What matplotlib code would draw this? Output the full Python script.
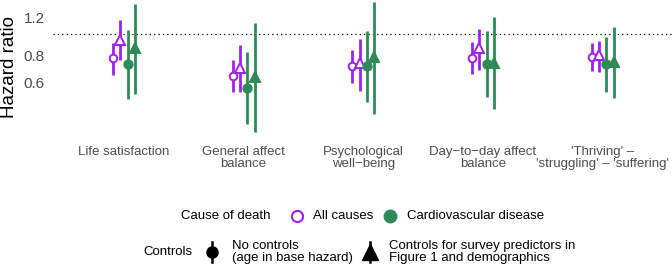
import matplotlib
matplotlib.use("Agg")
import matplotlib.pyplot as plt
from matplotlib.lines import Line2D
import numpy as np

plt.rcParams['font.family'] = ['Liberation Sans', 'DejaVu Sans']

categories = ["Life satisfaction", "General affect\nbalance", "Psychological\nwell\u2212being",
              "Day\u2212to\u2212day affect\nbalance", "'Thriving' \u2013\n'struggling' \u2013 'suffering'"]

# All causes, no controls
all_nc_hr = [0.773, 0.640, 0.712, 0.773, 0.787]
all_nc_lo = [0.647, 0.537, 0.596, 0.654, 0.675]
all_nc_hi = [0.914, 0.759, 0.845, 0.918, 0.908]
# All causes, with controls
all_c_hr = [0.945, 0.695, 0.733, 0.861, 0.801]
all_c_lo = [0.759, 0.537, 0.547, 0.682, 0.666]
all_c_hi = [1.166, 0.892, 0.948, 1.055, 0.931]
# Cardiovascular, no controls
cvd_nc_hr = [0.727, 0.561, 0.712, 0.725, 0.725]
cvd_nc_lo = [0.500, 0.383, 0.486, 0.509, 0.537]
cvd_nc_hi = [1.047, 0.825, 1.040, 1.036, 0.975]
# Cardiovascular, with controls
cvd_c_hr = [0.861, 0.631, 0.782, 0.733, 0.746]
cvd_c_lo = [0.526, 0.352, 0.425, 0.448, 0.504]
cvd_c_hi = [1.390, 1.132, 1.418, 1.200, 1.078]

yticks = [0.6, 0.8, 1.2]
ytick_labels = ["0.6", "0.8", "1.2"]

PURPLE = "#A020F0"
GREEN = "#2E8B57"
W, H = 672, 267

fig = plt.figure(figsize=(W / 100, H / 100), dpi=100)
left, top, bottom = 53, 0, 135
ax = fig.add_axes([left / W, 1 - bottom / H, (W - left) / W, (bottom - top) / H])
ax.set_yscale('log')
ax.set_ylim(0.34, 1.445)
ax.set_xlim(-0.594, 4.58)

x = np.arange(len(categories))
series = [
    (all_nc_hr, all_nc_lo, all_nc_hi, -0.092, PURPLE, 'o', 'white', 5.5),
    (all_c_hr, all_c_lo, all_c_hi, -0.031, PURPLE, '^', 'white', 7),
    (cvd_nc_hr, cvd_nc_lo, cvd_nc_hi, 0.031, GREEN, 'o', GREEN, 6),
    (cvd_c_hr, cvd_c_lo, cvd_c_hi, 0.092, GREEN, '^', GREEN, 7.5),
]
ax.axhline(1.0, color='black', lw=0.9, ls=(0, (1, 2.5)), zorder=1)
for hr, lo, hi, off, col, mk, fc, ms in series:
    xs = x + off
    ax.vlines(xs, lo, hi, color=col, lw=2.0, zorder=2)
    ax.plot(xs, hr, ls='none', marker=mk, ms=ms, mfc=fc, mec=col, mew=1.4, zorder=3)

ax.set_yticks(yticks)
ax.set_yticklabels(ytick_labels)
ax.yaxis.set_minor_locator(matplotlib.ticker.NullLocator())
ax.tick_params(axis='y', length=0, labelsize=11, labelcolor='#4D4D4D', pad=6)
ax.set_xticks(x)
ax.set_xticklabels(categories)
ax.tick_params(axis='x', length=0, labelsize=9.5, labelcolor='#4D4D4D', pad=8)
for t in ax.get_xticklabels():
    t.set_linespacing(1.0)
ax.set_ylabel("Hazard ratio", fontsize=13.5, labelpad=4)
for s in ax.spines.values():
    s.set_visible(False)

# Legends in pixel-space overlay
ov = fig.add_axes([0, 0, 1, 1], zorder=-1)
ov.set_xlim(0, W)
ov.set_ylim(H, 0)
ov.axis('off')

fs = 9.5
ly1 = 216
ov.text(181, ly1, "Cause of death", fontsize=fs, va='center', ha='left')
ov.add_line(Line2D([297], [ly1], marker='o', ms=8, mfc='white', mec=PURPLE, mew=1.5, ls='none'))
ov.text(313, ly1, "All causes", fontsize=fs, va='center', ha='left')
ov.add_line(Line2D([390], [ly1], marker='o', ms=9, mfc=GREEN, mec=GREEN, ls='none'))
ov.text(407, ly1, "Cardiovascular disease", fontsize=fs, va='center', ha='left')

ly2 = 252
ov.text(143, ly2, "Controls", fontsize=fs, va='center', ha='left')
ov.add_line(Line2D([212, 212], [ly2 - 10, ly2 + 10], color='black', lw=1.8))
ov.add_line(Line2D([212], [ly2], marker='o', ms=8, mfc='black', mec='black', ls='none'))
ov.text(232, ly2, "No controls\n(age in base hazard)", fontsize=fs, va='center', ha='left', linespacing=1.0)
ov.add_line(Line2D([370, 370], [ly2 - 10, ly2 + 10], color='black', lw=1.8))
ov.add_line(Line2D([370], [ly2], marker='^', ms=11, mfc='black', mec='black', ls='none'))
ov.text(389, ly2, "Controls for survey predictors in\nFigure 1 and demographics", fontsize=fs, va='center', ha='left', linespacing=1.0)

fig.savefig("out.png", dpi=100, facecolor='white')
